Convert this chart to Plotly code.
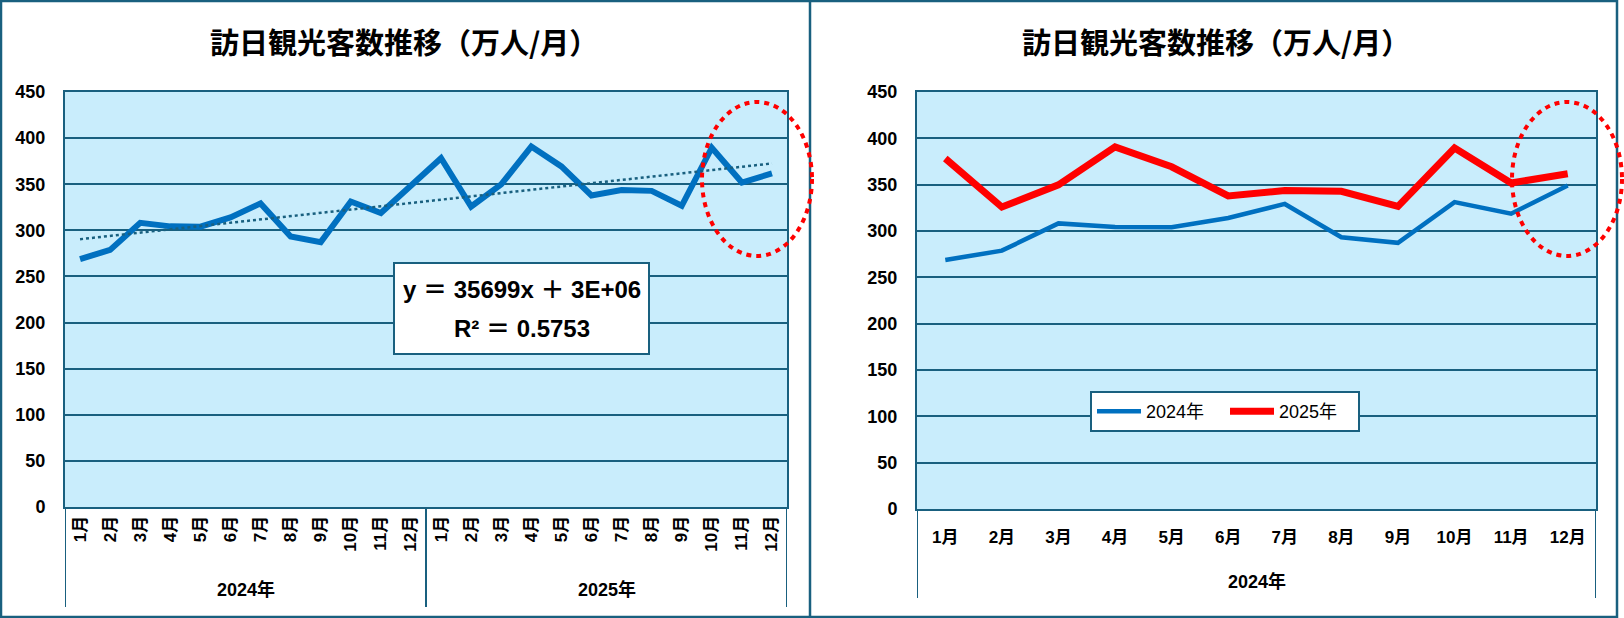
import numpy as np
import plotly.graph_objects as go

W, H = 1624, 618

# ---- data ----
months = ["1月", "2月", "3月", "4月", "5月", "6月", "7月", "8月", "9月", "10月", "11月", "12月"]
years = ["2024年", "2025年"]
v2024 = [268.8, 278.8, 308.2, 304.3, 304.0, 314.0, 329.2, 293.3, 287.2, 331.2, 318.7, 349.0]
v2025 = [378.2, 325.8, 349.8, 390.8, 369.3, 337.8, 343.7, 342.8, 326.6, 389.6, 351.8, 361.8]
title_text = "訪日観光客数推移（万人/月）"
trend_eq = "y ＝ 35699x ＋ 3E+06"
trend_r2 = "R² ＝ 0.5753"
y_ticks = list(range(0, 451, 50))

# ---- styles ----
DARK = "#19607F"
BG = "#C9EDFC"
BLUE = "#0070C0"
RED = "#FF0000"
FONT = "Liberation Sans, Noto Sans CJK JP, sans-serif"
CJK = "Noto Sans CJK JP, sans-serif"

def px_x(p):
    return p / W

def px_y(p):
    return (H - p) / H

fig = go.Figure()

# left chart: 24 months continuous
all_vals = v2024 + v2025
idx = np.arange(len(all_vals))
fig.add_trace(go.Scatter(x=idx, y=all_vals, mode="lines", xaxis="x", yaxis="y",
                         line=dict(color=BLUE, width=6), showlegend=False))
slope, icpt = np.polyfit(idx, all_vals, 1)
fig.add_trace(go.Scatter(x=idx, y=slope * idx + icpt, mode="lines", xaxis="x", yaxis="y",
                         line=dict(color=DARK, width=2.5, dash="dot"), showlegend=False))

# right chart: year comparison
midx = np.arange(len(months))
fig.add_trace(go.Scatter(x=midx, y=v2024, mode="lines", xaxis="x2", yaxis="y2",
                         name=years[0], line=dict(color=BLUE, width=4.5)))
fig.add_trace(go.Scatter(x=midx, y=v2025, mode="lines", xaxis="x2", yaxis="y2",
                         name=years[1], line=dict(color=RED, width=7)))

tick_font = dict(family=FONT, size=17, color="#000000", weight="bold")
ytick_font = dict(family=FONT, size=18, color="#000000", weight="bold")

yax = dict(range=[0, 450], tickvals=y_ticks, showgrid=True, gridcolor=DARK, gridwidth=2,
           showline=True, linecolor=DARK, linewidth=2, mirror=True, ticks="",
           tickfont=ytick_font, ticklabelstandoff=14, zeroline=False, fixedrange=True,
           automargin=False)

fig.update_layout(
    autosize=True, margin=dict(l=0, r=0, t=0, b=0, pad=0),
    paper_bgcolor="white", plot_bgcolor=BG,
    xaxis=dict(domain=[px_x(65), px_x(787)], range=[-0.5, len(all_vals) - 0.5],
               tickvals=list(idx), ticktext=months * 2, tickangle=-90,
               showgrid=False, showline=True, linecolor=DARK, linewidth=2, mirror=True,
               ticks="", tickfont=tick_font, zeroline=False, anchor="y", automargin=False),
    yaxis=dict(domain=[px_y(507), px_y(92)], anchor="x", **yax),
    xaxis2=dict(domain=[px_x(917), px_x(1596)], range=[-0.5, len(months) - 0.5],
                tickvals=list(midx), ticktext=months, tickangle=0,
                showgrid=False, showline=True, linecolor=DARK, linewidth=2, mirror=True,
                ticks="", tickfont=tick_font, ticklabelstandoff=12, zeroline=False, anchor="y2",
                automargin=False),
    yaxis2=dict(domain=[px_y(509), px_y(92)], anchor="x2", **yax),
    legend=dict(orientation="h", x=px_x(1090), y=px_y(391), xanchor="left", yanchor="top",
                bgcolor="white", bordercolor=DARK, borderwidth=2,
                font=dict(family=FONT, size=18, color="#000000"),
                itemwidth=44, entrywidth=74, entrywidthmode="pixels", tracegroupgap=0),
)

shapes = []
# panel borders
shapes.append(dict(type="rect", xref="paper", yref="paper", x0=px_x(1), x1=px_x(1617),
                   y0=px_y(617), y1=px_y(1), line=dict(color=DARK, width=2.5)))
shapes.append(dict(type="line", xref="paper", yref="paper", x0=px_x(810), x1=px_x(810),
                   y0=px_y(617), y1=px_y(1), line=dict(color=DARK, width=2.5)))
# category group dividers (left)
for xb in [-0.5, len(v2024) - 0.5, len(all_vals) - 0.5]:
    shapes.append(dict(type="line", xref="x", yref="paper", x0=xb, x1=xb,
                       y0=px_y(607), y1=px_y(507), line=dict(color=DARK, width=2)))
# right dividers
for xb in [-0.5, len(months) - 0.5]:
    shapes.append(dict(type="line", xref="x2", yref="paper", x0=xb, x1=xb,
                       y0=px_y(598), y1=px_y(509), line=dict(color=DARK, width=2)))
# equation box
shapes.append(dict(type="rect", xref="paper", yref="paper", x0=px_x(394), x1=px_x(649),
                   y0=px_y(354), y1=px_y(263), fillcolor="white", line=dict(color=DARK, width=2),
                   layer="above"))
# red dotted ellipses
for cx in [757, 1567]:
    shapes.append(dict(type="circle", xref="paper", yref="paper", x0=px_x(cx - 55), x1=px_x(cx + 55),
                       y0=px_y(256), y1=px_y(102), line=dict(color=RED, width=4, dash="5px,5px")))
fig.update_layout(shapes=shapes)

ann = []
for cx in [404, 1216]:
    ann.append(dict(text=title_text, xref="paper", yref="paper", x=px_x(cx), y=px_y(41),
                    xanchor="center", yanchor="middle", showarrow=False,
                    font=dict(family=CJK, size=29, color="#000000", weight="bold")))
for i, yr in enumerate(years):
    ann.append(dict(text=yr, xref="x", yref="paper", x=i * 12 + 5.5, y=px_y(589),
                    xanchor="center", yanchor="middle", showarrow=False,
                    font=dict(family=FONT, size=18, color="#000000", weight="bold")))
ann.append(dict(text=years[0], xref="x2", yref="paper", x=(len(months) - 1) / 2, y=px_y(581),
                xanchor="center", yanchor="middle", showarrow=False,
                font=dict(family=FONT, size=18, color="#000000", weight="bold")))
for txt, yy in [(trend_eq, 289), (trend_r2, 328)]:
    ann.append(dict(text=txt, xref="paper", yref="paper", x=px_x(521.5), y=px_y(yy),
                    xanchor="center", yanchor="middle", showarrow=False,
                    font=dict(family=FONT, size=24, color="#000000", weight="bold")))
fig.update_layout(annotations=ann)

# the plot div is pinned to the page origin at exactly the window size,
# so the default body margin cannot push it out of the 1624x618 view
fig.write_html("out.html", include_plotlyjs=True, full_html=True,
               config={"displayModeBar": False, "responsive": False},
               default_width=f"{W}px",
               default_height=f"{H}px; position:absolute; left:0; top:0")
